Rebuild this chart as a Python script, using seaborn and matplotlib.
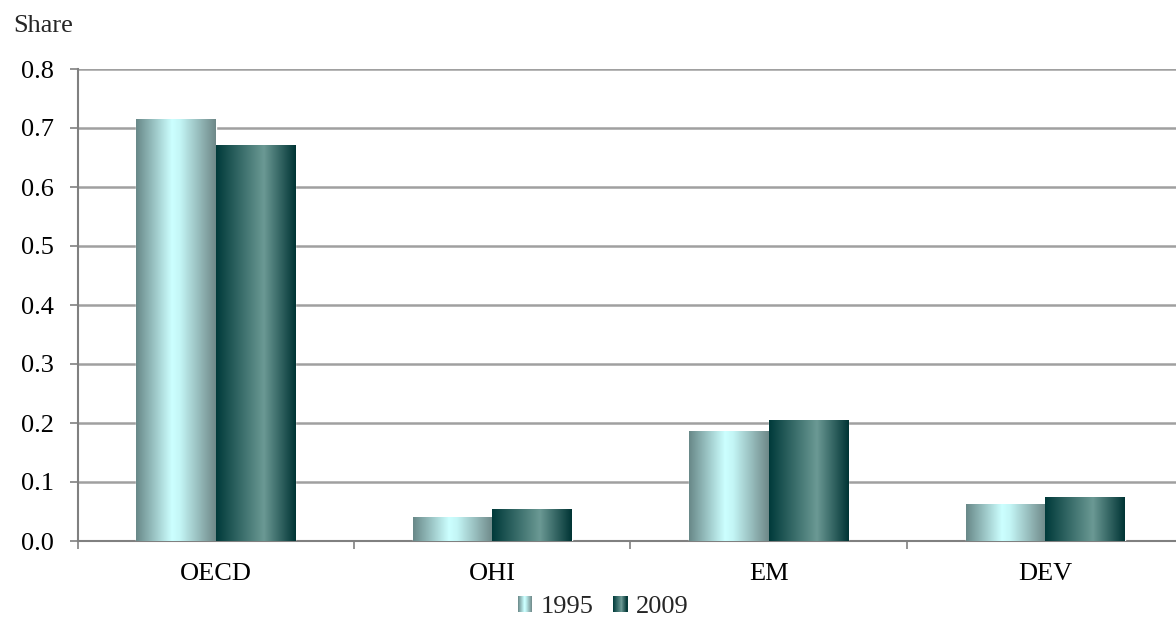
import numpy as np
import pandas as pd
import matplotlib
matplotlib.use("Agg")
import matplotlib.pyplot as plt
import seaborn as sns
from matplotlib.colors import LinearSegmentedColormap
from matplotlib.legend_handler import HandlerBase
from matplotlib.patches import Rectangle

# Data
regions = ["OECD", "OHI", "EM", "DEV"]
years = ["1995", "2009"]
share_1995 = [0.715, 0.041, 0.186, 0.063]
share_2009 = [0.671, 0.054, 0.205, 0.075]
y_ticks = [0.0, 0.1, 0.2, 0.3, 0.4, 0.5, 0.6, 0.7, 0.8]

df = pd.DataFrame({
    "region": regions * 2,
    "year": [years[0]] * len(regions) + [years[1]] * len(regions),
    "share": share_1995 + share_2009,
})

# Horizontal shading for each series
cmaps = {
    "1995": LinearSegmentedColormap.from_list(
        "light", [(0.0, "#688888"), (0.45, "#ccffff"), (0.55, "#c4f6f6"), (1.0, "#6e8888")]),
    "2009": LinearSegmentedColormap.from_list(
        "dark", [(0.0, "#003a3a"), (0.6, "#6b9994"), (1.0, "#003434")]),
}

sns.set_theme(style="white")
plt.rcParams["font.family"] = ["Liberation Serif", "DejaVu Serif"]
FS = 19

W, H = 1176, 618
fig = plt.figure(figsize=(W / 100, H / 100), dpi=100)
# plot area runs slightly past the right edge of the canvas
ax = fig.add_axes([77.5 / W, 1 - 541 / H, 1106 / W, (541 - 69) / H])

sns.barplot(data=df, x="region", y="share", hue="year", hue_order=years,
            order=regions, palette=["#a8d0d0", "#2a6060"], saturation=1,
            width=0.575, gap=0, legend=False, ax=ax, zorder=3)

grad = np.linspace(0, 1, 256).reshape(1, -1)
for year, container in zip(years, ax.containers):
    for bar in container:
        x0, y0 = bar.get_x(), bar.get_y()
        w, h = bar.get_width(), bar.get_height()
        im = ax.imshow(grad, cmap=cmaps[year], aspect="auto",
                       extent=(x0, x0 + w, y0, y0 + h), zorder=4,
                       interpolation="bilinear")
        im.set_clip_path(bar)

ax.set_xlim(-0.5, len(regions) - 0.5)
ax.set_ylim(0, 0.8)
ax.set_yticks(y_ticks)
ax.set_yticklabels([f"{v:.1f}" for v in y_ticks])
ax.yaxis.grid(True, color="#a0a0a0", linewidth=1.8, zorder=0)
ax.set_axisbelow(True)
ax.set_xlabel("")
ax.set_ylabel("")

for side in ["top", "right"]:
    ax.spines[side].set_visible(False)
for side in ["left", "bottom"]:
    ax.spines[side].set_color("#808080")
    ax.spines[side].set_linewidth(1.5)

ax.set_xticks(range(len(regions)))
ax.set_xticks(np.arange(-0.5, len(regions), 1.0), minor=True)
ax.tick_params(axis="x", which="major", length=0, pad=16, labelsize=FS, colors="black")
ax.tick_params(axis="x", which="minor", length=6, width=1.2, color="#808080", direction="out", bottom=True)
ax.tick_params(axis="y", length=6, width=1.2, color="#808080", direction="out", left=True,
               pad=11, labelsize=FS, labelcolor="black")

fig.text(13 / W, 1 - 26 / H, "Share", fontsize=FS, va="center", ha="left")


class GradientHandler(HandlerBase):
    def __init__(self, cmap, n=14):
        super().__init__()
        self.cmap = cmap
        self.n = n

    def create_artists(self, legend, orig_handle, xdescent, ydescent,
                       width, height, fontsize, trans):
        arts = []
        step = width / self.n
        for i in range(self.n):
            r = Rectangle((-xdescent + i * step, -ydescent), step * 1.05, height,
                          facecolor=self.cmap((i + 0.5) / self.n), edgecolor="none",
                          transform=trans)
            arts.append(r)
        return arts


handles = [Rectangle((0, 0), 1, 1) for _ in years]
fig.legend(handles, years, loc="center", bbox_to_anchor=(603 / W, 1 - 607 / H),
           ncol=2, frameon=False, fontsize=FS, handlelength=0.55, handleheight=0.55,
           handletextpad=0.3, columnspacing=0.75, borderpad=0, borderaxespad=0,
           handler_map={handles[0]: GradientHandler(cmaps["1995"]),
                        handles[1]: GradientHandler(cmaps["2009"])})

fig.savefig("out.png", dpi=100)
